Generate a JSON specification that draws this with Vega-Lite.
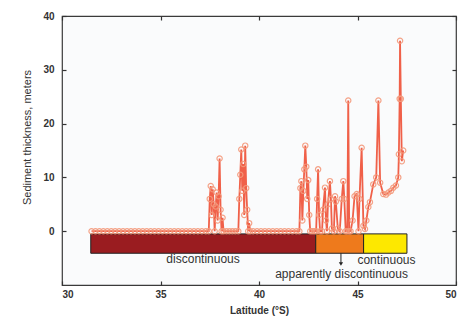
{
  "$schema": "https://vega.github.io/schema/vega-lite/v6.json",
  "width": 394,
  "height": 269,
  "autosize": "none",
  "padding": {"left": 62, "top": 16, "right": 5, "bottom": 35},
  "background": "#ffffff",
  "config": {
    "view": {"stroke": "#3a3a3a", "strokeWidth": 1.2, "fill": "#fafbfc"},
    "font": "Liberation Sans",
    "axis": {"domain": false, "grid": false, "tickColor": "#333", "tickWidth": 1.2, "labelFont": "Liberation Sans", "titleFont": "Liberation Sans"}
  },
  "datasets": {
    "one": [{}],
    "zones": [
      {"zone": "discontinuous", "start": 31.46, "end": 42.88},
      {"zone": "apparently discontinuous", "start": 42.88, "end": 45.31},
      {"zone": "continuous", "start": 45.31, "end": 47.51}
    ],
    "sed": [
      {"lat": 31.5, "t": 0}, {"lat": 31.7, "t": 0}, {"lat": 31.9, "t": 0}, {"lat": 32.1, "t": 0}, {"lat": 32.3, "t": 0},
      {"lat": 32.5, "t": 0}, {"lat": 32.7, "t": 0}, {"lat": 32.9, "t": 0}, {"lat": 33.1, "t": 0}, {"lat": 33.3, "t": 0},
      {"lat": 33.5, "t": 0}, {"lat": 33.7, "t": 0}, {"lat": 33.9, "t": 0}, {"lat": 34.1, "t": 0}, {"lat": 34.3, "t": 0},
      {"lat": 34.5, "t": 0}, {"lat": 34.7, "t": 0}, {"lat": 34.9, "t": 0}, {"lat": 35.1, "t": 0}, {"lat": 35.3, "t": 0},
      {"lat": 35.5, "t": 0}, {"lat": 35.7, "t": 0}, {"lat": 35.9, "t": 0}, {"lat": 36.1, "t": 0}, {"lat": 36.3, "t": 0},
      {"lat": 36.5, "t": 0}, {"lat": 36.7, "t": 0}, {"lat": 36.9, "t": 0}, {"lat": 37.1, "t": 0}, {"lat": 37.3, "t": 0},
      {"lat": 37.45, "t": 0}, {"lat": 37.5, "t": 6}, {"lat": 37.55, "t": 8.4}, {"lat": 37.6, "t": 3}, {"lat": 37.65, "t": 7.8},
      {"lat": 37.7, "t": 5}, {"lat": 37.75, "t": 0}, {"lat": 37.8, "t": 4.6}, {"lat": 37.85, "t": 7.2}, {"lat": 37.9, "t": 2},
      {"lat": 37.95, "t": 6.5}, {"lat": 38.0, "t": 13.5}, {"lat": 38.05, "t": 4}, {"lat": 38.1, "t": 0}, {"lat": 38.15, "t": 2.5},
      {"lat": 38.2, "t": 0}, {"lat": 38.35, "t": 0}, {"lat": 38.5, "t": 0}, {"lat": 38.65, "t": 0}, {"lat": 38.8, "t": 0},
      {"lat": 38.95, "t": 0}, {"lat": 39.0, "t": 6}, {"lat": 39.05, "t": 10.5}, {"lat": 39.1, "t": 15.2}, {"lat": 39.15, "t": 7.5},
      {"lat": 39.2, "t": 12.5}, {"lat": 39.25, "t": 3}, {"lat": 39.3, "t": 15.9}, {"lat": 39.35, "t": 8}, {"lat": 39.4, "t": 4},
      {"lat": 39.45, "t": 0}, {"lat": 39.5, "t": 1.5}, {"lat": 39.55, "t": 0}, {"lat": 39.7, "t": 0}, {"lat": 39.9, "t": 0},
      {"lat": 40.1, "t": 0}, {"lat": 40.3, "t": 0}, {"lat": 40.5, "t": 0}, {"lat": 40.7, "t": 0}, {"lat": 40.9, "t": 0},
      {"lat": 41.1, "t": 0}, {"lat": 41.3, "t": 0}, {"lat": 41.5, "t": 0}, {"lat": 41.7, "t": 0}, {"lat": 41.9, "t": 0},
      {"lat": 42.05, "t": 0}, {"lat": 42.1, "t": 8}, {"lat": 42.15, "t": 9.3}, {"lat": 42.2, "t": 2}, {"lat": 42.25, "t": 7.5},
      {"lat": 42.3, "t": 11.5}, {"lat": 42.35, "t": 15.9}, {"lat": 42.4, "t": 12}, {"lat": 42.45, "t": 6}, {"lat": 42.5, "t": 9.5},
      {"lat": 42.55, "t": 3}, {"lat": 42.6, "t": 0}, {"lat": 42.7, "t": 0}, {"lat": 42.8, "t": 0}, {"lat": 42.9, "t": 0},
      {"lat": 42.95, "t": 6}, {"lat": 43.0, "t": 11.5}, {"lat": 43.05, "t": 3}, {"lat": 43.1, "t": 0}, {"lat": 43.2, "t": 0},
      {"lat": 43.25, "t": 4}, {"lat": 43.35, "t": 8.1}, {"lat": 43.4, "t": 2}, {"lat": 43.45, "t": 0}, {"lat": 43.5, "t": 5},
      {"lat": 43.6, "t": 9.3}, {"lat": 43.65, "t": 6}, {"lat": 43.7, "t": 0.5}, {"lat": 43.8, "t": 0}, {"lat": 43.86, "t": 6.5},
      {"lat": 43.9, "t": 5.5}, {"lat": 44.0, "t": 0.5}, {"lat": 44.1, "t": 0}, {"lat": 44.2, "t": 6}, {"lat": 44.28, "t": 9.3},
      {"lat": 44.33, "t": 6}, {"lat": 44.4, "t": 0}, {"lat": 44.48, "t": 0}, {"lat": 44.53, "t": 24.3}, {"lat": 44.58, "t": 0},
      {"lat": 44.65, "t": 0}, {"lat": 44.75, "t": 2}, {"lat": 44.85, "t": 6.5}, {"lat": 44.96, "t": 6.9}, {"lat": 45.05, "t": 0},
      {"lat": 45.1, "t": 6}, {"lat": 45.21, "t": 15.5}, {"lat": 45.3, "t": 1}, {"lat": 45.38, "t": 0.4}, {"lat": 45.45, "t": 2},
      {"lat": 45.55, "t": 4.5}, {"lat": 45.63, "t": 5.4}, {"lat": 45.8, "t": 8.7}, {"lat": 45.95, "t": 10}, {"lat": 46.06, "t": 24.3},
      {"lat": 46.15, "t": 9}, {"lat": 46.31, "t": 6.9}, {"lat": 46.45, "t": 6.8}, {"lat": 46.57, "t": 7.2}, {"lat": 46.7, "t": 7.5},
      {"lat": 46.82, "t": 8.1}, {"lat": 46.95, "t": 8.5}, {"lat": 47.07, "t": 10}, {"lat": 47.1, "t": 14.3}, {"lat": 47.14, "t": 24.6},
      {"lat": 47.16, "t": 35.4}, {"lat": 47.2, "t": 24.6}, {"lat": 47.25, "t": 13}, {"lat": 47.32, "t": 15}
    ]
  },
  "resolve": {"axis": {"x": "independent", "y": "independent"}},
  "layer": [
    {
      "data": {"name": "zones"},
      "mark": {"type": "rect", "stroke": "#222", "strokeWidth": 1},
      "encoding": {
        "x": {"field": "start", "type": "quantitative", "scale": {"domain": [30, 50], "nice": false},
          "axis": {"orient": "bottom", "values": [30, 35, 40, 45, 50], "tickSize": -4, "labelPadding": 8, "labelFontSize": 10, "labelFontWeight": "bold", "labelColor": "#333", "title": "Latitude (°S)", "titleFontSize": 10, "titleFontWeight": "bold", "titleColor": "#333", "titlePadding": 6}},
        "x2": {"field": "end"},
        "y": {"datum": -0.5, "type": "quantitative", "scale": {"domain": [-10, 40], "nice": false},
          "axis": {"orient": "left", "values": [0, 10, 20, 30, 40], "tickSize": -4, "labelPadding": 12, "labelFontSize": 10, "labelFontWeight": "bold", "labelColor": "#333", "title": "Sediment thickness, meters", "titleFontSize": 11, "titleFontWeight": "normal", "titleColor": "#333", "titlePadding": 10, "titleY": 121}},
        "y2": {"datum": -4.1},
        "color": {"field": "zone", "type": "nominal", "legend": null,
          "scale": {"domain": ["discontinuous", "apparently discontinuous", "continuous"], "range": ["#9a1c20", "#ee7a1c", "#fde800"]}}
      }
    },
    {
      "data": {"name": "sed"},
      "mark": {"type": "line", "color": "#ee3a1c", "strokeWidth": 1.8, "opacity": 0.8},
      "encoding": {
        "x": {"field": "lat", "type": "quantitative",
          "axis": {"orient": "top", "values": [30, 35, 40, 45, 50], "tickSize": -4, "labels": false, "title": null}},
        "y": {"field": "t", "type": "quantitative",
          "axis": {"orient": "right", "values": [0, 10, 20, 30, 40], "tickSize": -4, "labels": false, "title": null}}
      }
    },
    {
      "data": {"name": "sed"},
      "mark": {"type": "point", "shape": "circle", "filled": false, "stroke": "#f49a7c", "strokeWidth": 1.2, "size": 28, "opacity": 0.9},
      "encoding": {
        "x": {"field": "lat", "type": "quantitative", "axis": null},
        "y": {"field": "t", "type": "quantitative", "axis": null}
      }
    },
    {
      "data": {"name": "one"},
      "mark": {"type": "rule", "color": "#222", "strokeWidth": 1},
      "encoding": {
        "x": {"datum": 44.16, "type": "quantitative", "axis": null},
        "y": {"datum": -4.1, "type": "quantitative", "axis": null},
        "y2": {"datum": -5.9}
      }
    },
    {
      "data": {"name": "one"},
      "mark": {"type": "point", "shape": "triangle-down", "filled": true, "color": "#222", "size": 18, "opacity": 1},
      "encoding": {
        "x": {"datum": 44.16, "type": "quantitative", "axis": null},
        "y": {"datum": -6.1, "type": "quantitative", "axis": null}
      }
    },
    {
      "data": {"name": "one"},
      "mark": {"type": "text", "text": "discontinuous", "font": "Liberation Sans", "fontSize": 12, "color": "#333", "align": "center", "baseline": "middle"},
      "encoding": {
        "x": {"datum": 37.16, "type": "quantitative", "axis": null},
        "y": {"datum": -5.2, "type": "quantitative", "axis": null}
      }
    },
    {
      "data": {"name": "one"},
      "mark": {"type": "text", "text": "continuous", "font": "Liberation Sans", "fontSize": 12, "color": "#333", "align": "center", "baseline": "middle"},
      "encoding": {
        "x": {"datum": 46.47, "type": "quantitative", "axis": null},
        "y": {"datum": -5.4, "type": "quantitative", "axis": null}
      }
    },
    {
      "data": {"name": "one"},
      "mark": {"type": "text", "text": "apparently discontinuous", "font": "Liberation Sans", "fontSize": 12, "color": "#333", "align": "center", "baseline": "middle"},
      "encoding": {
        "x": {"datum": 44.19, "type": "quantitative", "axis": null},
        "y": {"datum": -7.9, "type": "quantitative", "axis": null}
      }
    }
  ]
}
